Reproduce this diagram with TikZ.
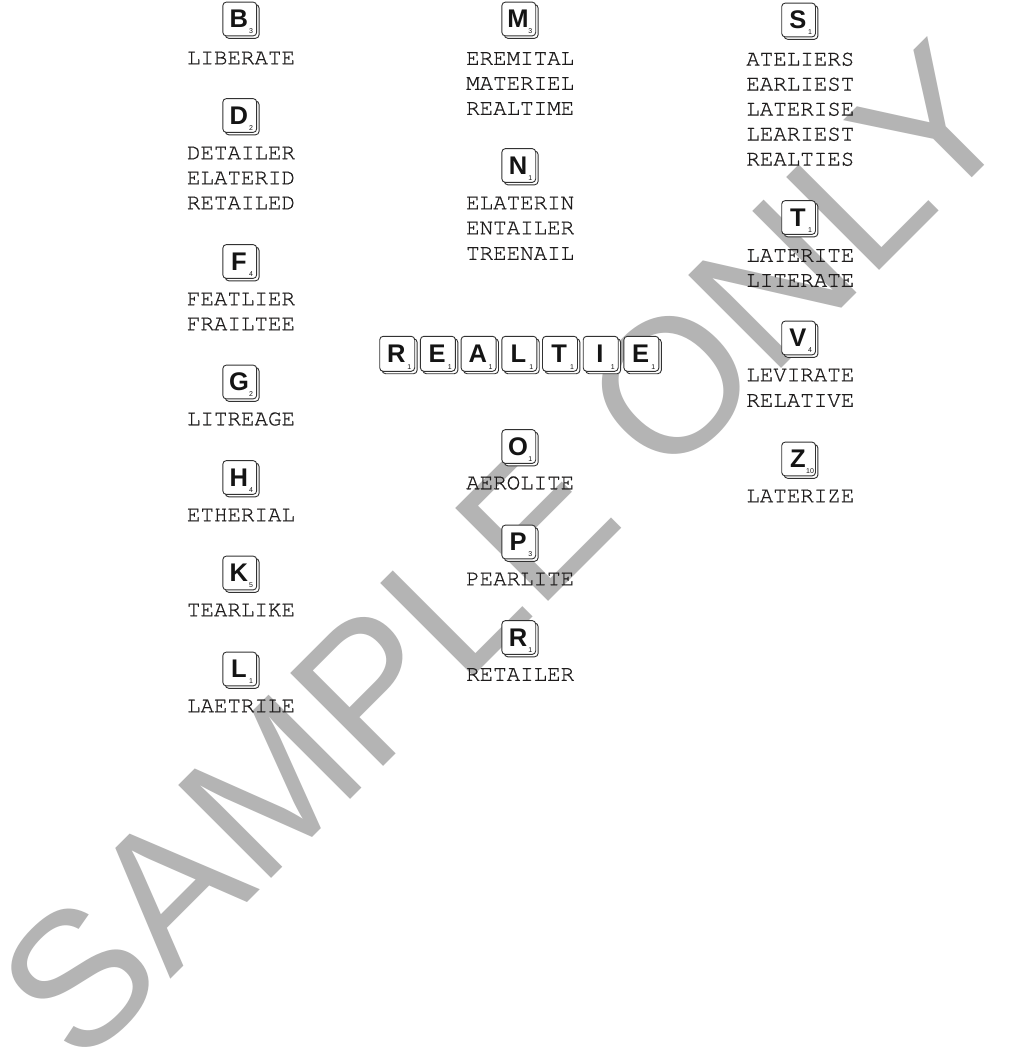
\documentclass[tikz,border=0pt]{standalone}
\usepackage{fontspec}
\newfontfamily\wordfont[FakeBold=0.7]{texgyrecursor-regular.otf}
\newfontfamily\tilefont{Liberation Sans}
\usetikzlibrary{calc}
\definecolor{wmgray}{RGB}{180,180,180}
\definecolor{tileline}{RGB}{50,50,50}
\definecolor{wordcol}{RGB}{30,28,28}
\definecolor{lettercol}{RGB}{20,20,20}
\tikzset{
  wm/.style={anchor=base west, rotate=45, inner sep=0pt, text=wmgray,
    font=\tilefont\fontsize{191}{191}\selectfont},
  word/.style={inner sep=0pt, text=wordcol, font=\wordfont\fontsize{22.5}{25}\selectfont},
  tilebox/.style={draw=tileline, fill=white, line width=0.9pt, rounded corners=3.5pt,
    inner sep=0pt, outer sep=0pt},
  letterstyle/.style={inner sep=0pt, text=lettercol,
    font=\tilefont\bfseries\fontsize{25.5}{25.5}\selectfont},
  valstyle/.style={inner sep=0pt, text=lettercol, font=\tilefont\fontsize{7}{7}\selectfont}
}
% name, x, y, size, letter, value
\newcommand\tile[6]{%
  \node[tilebox, minimum size=#4] (#1-s) at ($(#2,#3)+(2.4,2.4)$) {};
  \node[tilebox, minimum size=#4] (#1) at (#2,#3) {};
  \node[letterstyle] (#1-l) at ([xshift=-0.8pt]#1.center) {#5};
  \node[valstyle] (#1-v) at ([xshift=-5.5pt,yshift=4.5pt]#1.south east) {#6};
}
\begin{document}
\begin{tikzpicture}[x=1pt,y=-1pt]
\useasboundingbox (0,0) rectangle (1026,1055);
\fill[white] (0,0) rectangle (1026,1055);
\node[wm] (wmark) at (80,1070) {SAMPLE ONLY};

% column 1
\tile{tB}{239.75}{19}{33.8}{B}{3}
\node[word] (w1) at (241,58) {LIBERATE};
\tile{tD}{239.75}{115.5}{33.8}{D}{2}
\node[word] (w2) at (241,153) {DETAILER};
\node[word] (w3) at (241,178) {ELATERID};
\node[word] (w4) at (241,203) {RETAILED};
\tile{tF}{239.75}{261.5}{33.8}{F}{4}
\node[word] (w5) at (241,299) {FEATLIER};
\node[word] (w6) at (241,324) {FRAILTEE};
\tile{tG}{239.75}{382}{33.8}{G}{2}
\node[word] (w7) at (241,419) {LITREAGE};
\tile{tH}{239.75}{477.5}{33.8}{H}{4}
\node[word] (w8) at (241,515) {ETHERIAL};
\tile{tK}{239.75}{573}{33.8}{K}{5}
\node[word] (w9) at (241,610) {TEARLIKE};
\tile{tL}{239.75}{669}{33.8}{L}{1}
\node[word] (w10) at (241,706) {LAETRILE};

% column 2
\tile{tM}{518.8}{19}{33.8}{M}{3}
\node[word] (w11) at (520.2,58.5) {EREMITAL};
\node[word] (w12) at (520.2,83.5) {MATERIEL};
\node[word] (w13) at (520.2,108.5) {REALTIME};
\tile{tN}{518.8}{165.5}{33.8}{N}{1}
\node[word] (w14) at (520.2,203) {ELATERIN};
\node[word] (w15) at (520.2,228) {ENTAILER};
\node[word] (w16) at (520.2,253.5) {TREENAIL};

\tile{r1}{397.2}{353.8}{35}{R}{1}
\tile{r2}{437.9}{353.8}{35}{E}{1}
\tile{r3}{478.6}{353.8}{35}{A}{1}
\tile{r4}{519.3}{353.8}{35}{L}{1}
\tile{r5}{560.0}{353.8}{35}{T}{1}
\tile{r6}{600.7}{353.8}{35}{I}{1}
\tile{r7}{641.4}{353.8}{35}{E}{1}

\tile{tO}{518.8}{446.5}{33.8}{O}{1}
\node[word] (w17) at (520.2,483) {AEROLITE};
\tile{tP}{518.8}{542}{33.8}{P}{3}
\node[word] (w18) at (520.2,579) {PEARLITE};
\tile{tR}{518.8}{637.5}{33.8}{R}{1}
\node[word] (w19) at (520.2,674.5) {RETAILER};

% column 3
\tile{tS}{798.6}{20}{33.8}{S}{1}
\node[word] (w20) at (800.3,59.3) {ATELIERS};
\node[word] (w21) at (800.3,84.3) {EARLIEST};
\node[word] (w22) at (800.3,109.3) {LATERISE};
\node[word] (w23) at (800.3,134.3) {LEARIEST};
\node[word] (w24) at (800.3,159.3) {REALTIES};
\tile{tT}{798.6}{217.5}{33.8}{T}{1}
\node[word] (w25) at (800.3,255.5) {LATERITE};
\node[word] (w26) at (800.3,280.5) {LITERATE};
\tile{tV}{798.6}{338}{33.8}{V}{4}
\node[word] (w27) at (800.3,375) {LEVIRATE};
\node[word] (w28) at (800.3,400.5) {RELATIVE};
\tile{tZ}{798.6}{459}{33.8}{Z}{10}
\node[word] (w29) at (800.3,496) {LATERIZE};
\end{tikzpicture}
\end{document}
